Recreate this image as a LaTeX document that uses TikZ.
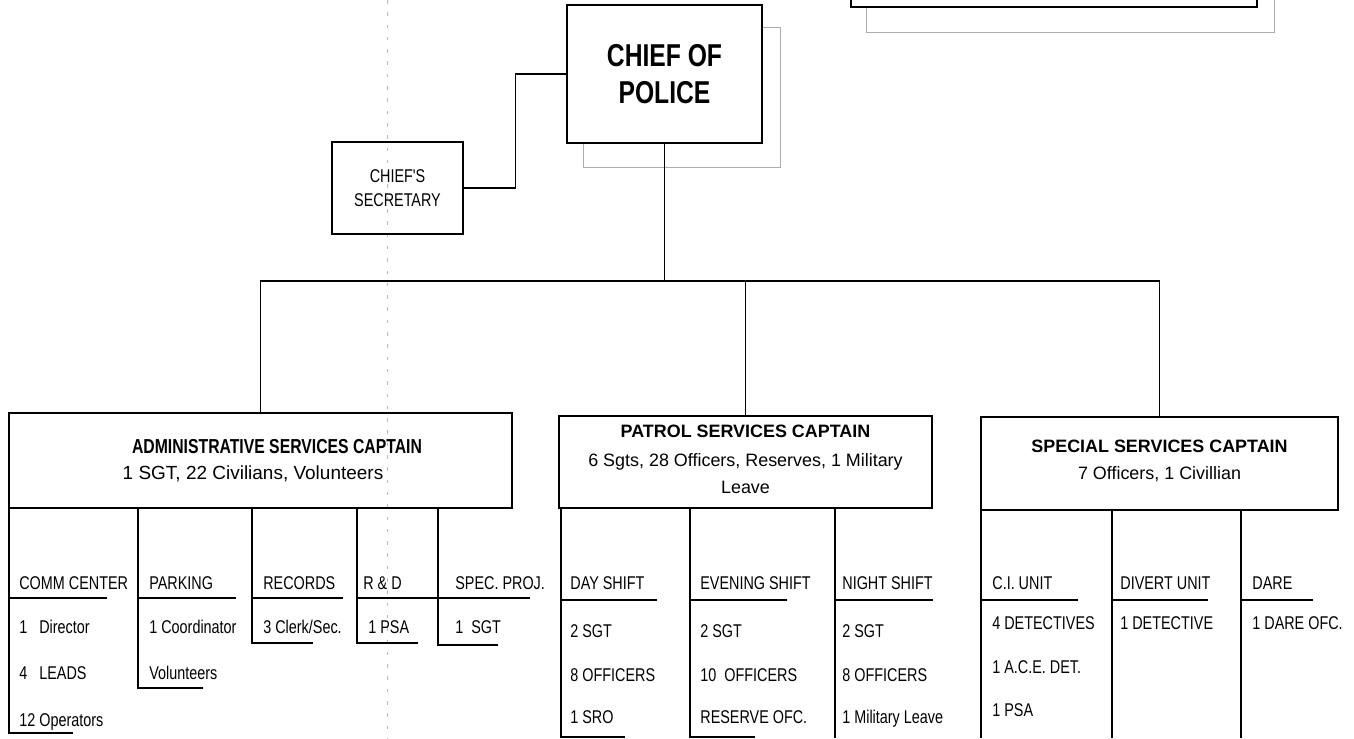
\documentclass[tikz,border=0pt]{standalone}
\usepackage{fontspec}
\setmainfont{Liberation Sans}
\newfontfamily\narrowsf{Liberation Sans}[FakeStretch=0.78]
\usetikzlibrary{positioning,backgrounds}

\begin{document}
\begin{tikzpicture}[x=0.02cm,y=-0.02cm,
  chiefbox/.style={draw,fill=white,line width=1.1pt,minimum width=3.9cm,minimum height=2.76cm,
    align=center,font=\narrowsf\bfseries\fontsize{18}{21.5}\selectfont},
  secbox/.style={draw,line width=0.8pt,minimum width=2.62cm,minimum height=1.84cm,
    align=center,font=\narrowsf\fontsize{10.5}{13.6}\selectfont},
  capbox/.style={draw,line width=0.8pt,minimum height=1.86cm},
  captext/.style={align=center,inner sep=0pt,font=\fontsize{10.2}{15}\selectfont},
  unit/.style={anchor=west,inner sep=0pt,text height=7.5pt,text depth=0pt,
    font=\narrowsf\fontsize{10.5}{12}\selectfont},
  link/.style={line width=0.6pt},
  shade/.style={draw=gray!65,line width=0.5pt},
  scan/.style={draw=gray!55,line width=0.35pt,dash pattern=on 2pt off 5pt}
]
\useasboundingbox (0,0) rectangle (1354,738);
\clip (0,0) rectangle (1354,738);

% chief and secretary
\node[chiefbox] (chief) at (664.5,74) {CHIEF OF\\POLICE};
\node[draw,fill=white,line width=1.1pt,minimum width=8.12cm,minimum height=1.2cm] (board) at (1054,-23) {};
\node[secbox] (sec) at (397.5,188) {CHIEF'S\\SECRETARY};

\begin{pgfonlayer}{background}
  \draw[shade] ([shift={(17,23)}]chief.south west) rectangle ([shift={(17,23)}]chief.north east);
  \draw[shade] ([shift={(16,24)}]board.south west) rectangle ([shift={(16,24)}]board.north east);
  \draw[scan] (387,0) -- (387,738);
\end{pgfonlayer}

% captains
\node[capbox,minimum width=10.06cm,minimum height=1.9cm] (admin) at (260.5,460.5) {};
\node[capbox,minimum width=7.46cm,minimum height=1.84cm] (patrol) at (745.5,462) {};
\node[capbox,minimum width=7.14cm] (special) at (1159.5,463.5) {};
\node[captext,font=\narrowsf\bfseries\fontsize{11.5}{13}\selectfont] (adminT) at (277,447) {ADMINISTRATIVE SERVICES CAPTAIN};
\node[captext,font=\fontsize{10.8}{13}\selectfont] (adminS) at (253,474) {1 SGT, 22 Civilians, Volunteers};
\node[captext] (patrolT) at (745.5,459) {\textbf{PATROL SERVICES CAPTAIN}\\[2pt]6 Sgts, 28 Officers, Reserves, 1 Military\\Leave};
\node[captext] (specialT) at (1159.5,461) {\textbf{SPECIAL SERVICES CAPTAIN}\\7 Officers, 1 Civillian};

% links
\coordinate (bus) at (664.5,281);
\draw[link] (sec.east) -- ++(52,0) |- (chief.west);
\draw[link] (chief.south) -- (bus);
\draw[link] (admin.north) |- (bus) -| (special.north);
\draw[link] (patrol.north) -- (patrol.north |- bus);

% unit columns
\foreach \cx/\cu/\cb/\ce in {9/107/733/73, 138/236/688/203, 252/343/643/313, 357/438/643/418, 438/530/645/498}
  \draw[link] (\cx,0 |- admin.south) -- (\cx,\cb) -- (\ce,\cb) (\cx,598) -- (\cu,598);
\foreach \cx/\cu/\cb/\ce in {561/657/737/625, 690/787/737/755, 835/933/738/835}
  \draw[link] (\cx,0 |- patrol.south) -- (\cx,\cb) -- (\ce,\cb) (\cx,600) -- (\cu,600);
\foreach \cx/\cu in {981/1078, 1112/1208, 1241/1313}
  \draw[link] (\cx,0 |- special.south) -- (\cx,738) (\cx,600) -- (\cu,600);

% administrative units
\node[unit] (comm) at (19,583) {COMM CENTER};
\node[unit] (comm1) at (19,627) {1\hphantom{2} Director};
\node[unit] (comm2) at (19,673) {4\hphantom{2} LEADS};
\node[unit] (comm3) at (19,720) {12 Operators};
\node[unit] (park) at (149,583) {PARKING};
\node[unit] (park1) at (149,627) {1 Coordinator};
\node[unit] (park2) at (149,673) {Volunteers};
\node[unit] (rec) at (263,583) {RECORDS};
\node[unit] (rec1) at (263,627) {3 Clerk/Sec.};
\node[unit] (rnd) at (363,583) {R \& D};
\node[unit] (rnd1) at (368,627) {1 PSA};
\node[unit] (proj) at (455,583) {SPEC. PROJ.};
\node[unit] (proj1) at (455,627) {1\ \ SGT};

% patrol units
\node[unit] (day) at (570,583) {DAY SHIFT};
\node[unit] (day1) at (570,631) {2 SGT};
\node[unit] (day2) at (570,675) {8 OFFICERS};
\node[unit] (day3) at (570,717) {1 SRO};
\node[unit] (eve) at (700,583) {EVENING SHIFT};
\node[unit] (eve1) at (700,631) {2 SGT};
\node[unit] (eve2) at (700,675) {10\ \ OFFICERS};
\node[unit] (eve3) at (700,717) {RESERVE OFC.};
\node[unit] (night) at (842,583) {NIGHT SHIFT};
\node[unit] (night1) at (842,631) {2 SGT};
\node[unit] (night2) at (842,675) {8 OFFICERS};
\node[unit] (night3) at (842,717) {1 Military Leave};

% special units
\node[unit] (ci) at (992,583) {C.I. UNIT};
\node[unit] (ci1) at (992,623) {4 DETECTIVES};
\node[unit] (ci2) at (992,667) {1 A.C.E. DET.};
\node[unit] (ci3) at (992,710) {1 PSA};
\node[unit] (divert) at (1120,583) {DIVERT UNIT};
\node[unit] (divert1) at (1120,623) {1 DETECTIVE};
\node[unit] (dare) at (1252,583) {DARE};
\node[unit] (dare1) at (1252,623) {1 DARE OFC.};
\end{tikzpicture}
\end{document}
